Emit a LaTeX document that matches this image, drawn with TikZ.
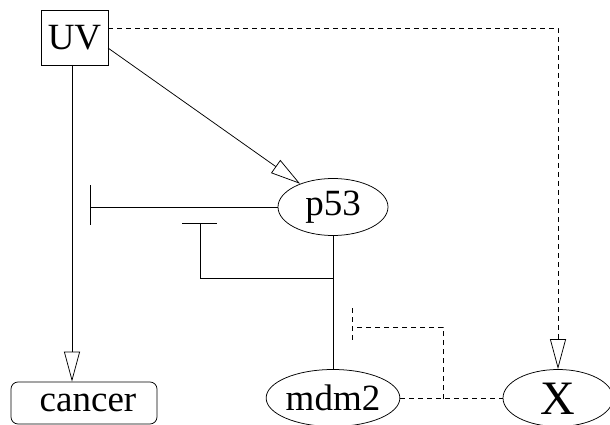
\documentclass[tikz,border=0pt]{standalone}
\usepackage{fontspec}
\setmainfont{Liberation Serif}
\usetikzlibrary{arrows.meta,shapes.geometric}
\begin{document}
\begin{tikzpicture}[x=1pt,y=-1pt,line width=0.75pt,
  big/.style={font=\fontsize{37}{40}\selectfont},
  ell/.style={draw,ellipse,inner sep=0pt,minimum width=110pt,minimum height=57pt,big},
  act/.style={-{Triangle[open,length=30pt,width=16pt]}},
  dsh/.style={dash pattern=on 5pt off 4pt}]
\useasboundingbox (0,0) rectangle (610,425);
\node[draw,rectangle,minimum width=67pt,minimum height=55pt,inner sep=0pt,big] (uv) at (74.5,37.5) {UV};
\node[ell] (p53) at (333,207) {p53};
\node[ell] (mdm2) at (333,398) {mdm2};
\node[ell,font=\fontsize{48}{48}\selectfont,text height=32pt,text depth=0pt] (x) at (558,398) {X};
\node[draw,rounded corners=7pt,minimum width=146pt,minimum height=42pt,inner sep=0pt,big] (cancer) at (84,403) {\hspace*{8pt}cancer};
% UV -> cancer
\coordinate (uvs) at (72,65);
\draw[act] (uvs) -- (uvs |- cancer.north);
% UV -> p53
\coordinate (uve) at (108,48);
\draw[act] (uve) -- (p53);
% UV -> X dashed
\coordinate (uvn) at (108,28);
\draw[act,dsh] (uvn) -| (x.north);
% p53 -| left
\coordinate (pbar) at (90,207);
\draw (p53.west) -- (pbar);
\draw (90,185) coordinate (pb1) -- (90,225) coordinate (pb2);
% p53 -- mdm2 with branch
\draw (p53.south) -- (mdm2.north);
\coordinate (jn) at (333,278);
\coordinate (mbar) at (200,223);
\draw (jn) -- (200,278) -- (mbar);
\draw (182,223) coordinate (mb1) -- (217,223) coordinate (mb2);
% mdm2 -- X dashed with branch
\draw[dsh] (mdm2.east) -- (x.west);
\coordinate (jx) at (443,399);
\coordinate (xbar) at (352,327);
\draw[dsh] (jx) |- (xbar);
\draw[dsh] (352,308) coordinate (xb1) -- (352,342) coordinate (xb2);
\end{tikzpicture}
\end{document}
